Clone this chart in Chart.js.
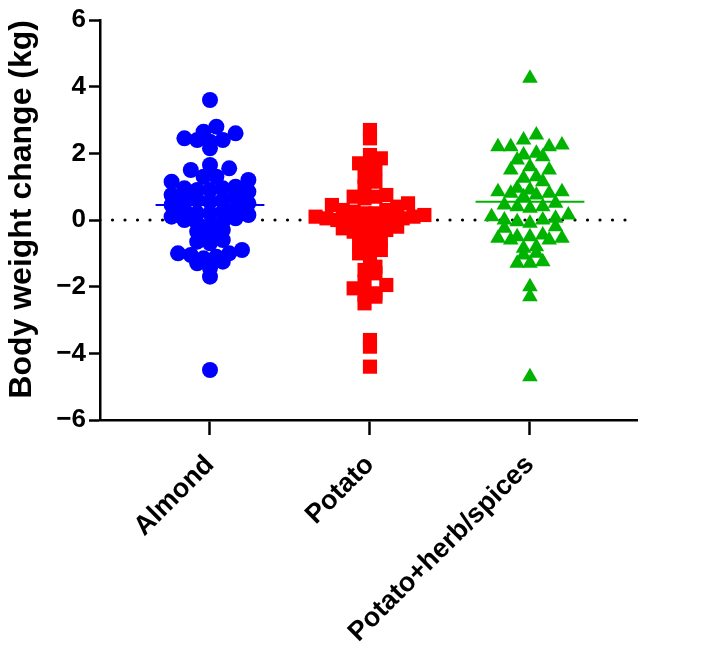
<!DOCTYPE html>
<html>
<head>
<meta charset="utf-8">
<script src="https://cdn.jsdelivr.net/npm/chart.js@4.4.0/dist/chart.umd.min.js"></script>
<style>
  html, body { margin: 0; padding: 0; background: #fff; }
</style>
</head>
<body>
<canvas id="myChart" width="709" height="670"></canvas>
<script>
var groups = ["Almond", "Potato", "Potato+herb/spices"];

// body weight change (kg)
var almond = [3.6, 2.8, 2.65, 2.6, 2.45, 2.4, 2.4, 2.35, 2.15, 1.65, 1.55, 1.5,
  1.3, 1.3, 1.2, 1.15, 1.0, 0.95, 0.95, 0.9, 0.9, 0.85, 0.75, 0.7, 0.65, 0.6,
  0.6, 0.55, 0.5, 0.45, 0.35, 0.3, 0.25, 0.2, 0.2, 0.15, 0.1, 0.05, 0.0, -0.05,
  -0.1, -0.15, -0.3, -0.35, -0.45, -0.6, -0.65, -0.7, -0.9, -1.0, -1.0, -1.05,
  -1.1, -1.15, -1.25, -1.3, -1.45, -1.7, -4.5];
var potato = [2.7, 2.45, 1.95, 1.85, 1.7, 1.6, 1.55, 1.3, 1.15, 1.0, 0.75, 0.7,
  0.7, 0.65, 0.5, 0.45, 0.4, 0.3, 0.3, 0.25, 0.2, 0.2, 0.15, 0.1, 0.1, 0.05,
  0.05, 0.0, 0.0, -0.05, -0.1, -0.1, -0.15, -0.2, -0.25, -0.3, -0.35, -0.4,
  -0.5, -0.6, -0.7, -0.8, -0.9, -1.0, -1.2, -1.4, -1.5, -1.6, -1.85, -1.95,
  -2.05, -2.2, -2.25, -2.3, -2.5, -3.6, -3.8, -4.4];
var herbSpices = [4.25, 2.55, 2.4, 2.25, 2.2, 2.2, 2.2, 2.0, 1.95, 1.9, 1.8,
  1.6, 1.5, 1.5, 1.3, 1.25, 1.15, 0.95, 0.9, 0.85, 0.85, 0.8, 0.8, 0.75, 0.7,
  0.5, 0.45, 0.4, 0.4, 0.35, 0.15, 0.1, 0.05, 0.0, 0.0, -0.05, -0.1, -0.2,
  -0.25, -0.45, -0.5, -0.5, -0.55, -0.55, -0.6, -0.6, -0.8, -0.85, -1.0, -1.05,
  -1.25, -1.3, -1.3, -2.0, -2.3, -4.7];
var groupMeans = [0.45, 0.0, 0.55];

var colors = ["#0000ff", "#ff0000", "#00b300"];
var shapes = ["circle", "rect", "triangle"];
var radii = [8, 10, 9];
var spreads = [0.08, 0.068, 0.08]; // x units between neighbours in a row
var FONT = "'Liberation Sans', Arial, sans-serif";

// Prism-style scatter: values that fall in the same band sit side by side
// in a row around the column centre (y stays the real value)
var BAND = 0.35; // kg per row
function rows(values, center, spread) {
  var bins = {};
  values.forEach(function(v) {
    var b = Math.round(v / BAND);
    (bins[b] = bins[b] || []).push(v);
  });
  var out = [];
  Object.keys(bins).forEach(function(b) {
    var vals = bins[b].sort(function(a, c) { return a - c; });
    var n = vals.length;
    // alternate left/right so the row doesn't slope
    var slots = [];
    for (var k = 0; k < n; k++) slots.push(k - (n - 1) / 2);
    slots.sort(function(a, c) { return Math.abs(a) - Math.abs(c) || a - c; });
    vals.forEach(function(v, k) {
      out.push({ x: center + slots[k] * spread, y: v });
    });
  });
  return out;
}

var X_MIN = -0.6875, X_MAX = 2.669;
var datasets = [];
[almond, potato, herbSpices].forEach(function(vals, i) {
  datasets.push({
    data: rows(vals, i, spreads[i]),
    pointStyle: shapes[i],
    pointRadius: radii[i],
    backgroundColor: colors[i],
    borderColor: colors[i],
    borderWidth: 0,
    order: 2
  });
  datasets.push({
    type: "line",
    data: [{ x: i - 0.34, y: groupMeans[i] }, { x: i + 0.34, y: groupMeans[i] }],
    borderColor: colors[i],
    borderWidth: 2,
    pointRadius: 0,
    showLine: true,
    order: 1
  });
});
// dotted zero line
datasets.push({
  type: "line",
  data: [{ x: X_MIN, y: 0 }, { x: X_MAX, y: 0 }],
  borderColor: "#000",
  borderWidth: 3.2,
  borderDash: [0, 12.5],
  borderCapStyle: "round",
  pointRadius: 0,
  showLine: true,
  order: 3
});

var ctx = document.getElementById("myChart").getContext("2d");
var myChart = new Chart(ctx, {
  type: "scatter",
  data: { datasets: datasets },
  options: {
    responsive: false,
    animation: false,
    events: [],
    layout: { padding: { top: 20, right: 72, left: 0, bottom: 0 } },
    plugins: { legend: { display: false }, tooltip: { enabled: false } },
    scales: {
      x: {
        type: "linear",
        min: X_MIN,
        max: X_MAX,
        afterBuildTicks: function(s) { s.ticks = [{ value: 0 }, { value: 1 }, { value: 2 }]; },
        afterFit: function(s) { s.height = 250; },
        ticks: {
          autoSkip: false,
          minRotation: 45,
          maxRotation: 45,
          padding: 14,
          color: "#000",
          font: { family: FONT, size: 27, weight: "bold" },
          callback: function(v) { return groups[v]; }
        },
        grid: { drawOnChartArea: false, tickLength: 15, tickWidth: 2.5, color: "#000" },
        border: { color: "#000", width: 2.5 }
      },
      y: {
        min: -6,
        max: 6,
        afterFit: function(s) { s.width = 100; },
        ticks: {
          stepSize: 2,
          padding: 3,
          color: "#000",
          font: { family: FONT, size: 26, weight: "bold" },
          callback: function(v) { return v < 0 ? "\u2212" + Math.abs(v) : String(v); }
        },
        title: {
          display: true,
          text: "Body weight change (kg)",
          align: "end",
          color: "#000",
          padding: { top: 3, bottom: 0 },
          font: { family: FONT, size: 32, weight: "bold" }
        },
        grid: { drawOnChartArea: false, tickLength: 11, tickWidth: 2.5, color: "#000" },
        border: { color: "#000", width: 2.5 }
      }
    }
  }
});
</script>
</body>
</html>
